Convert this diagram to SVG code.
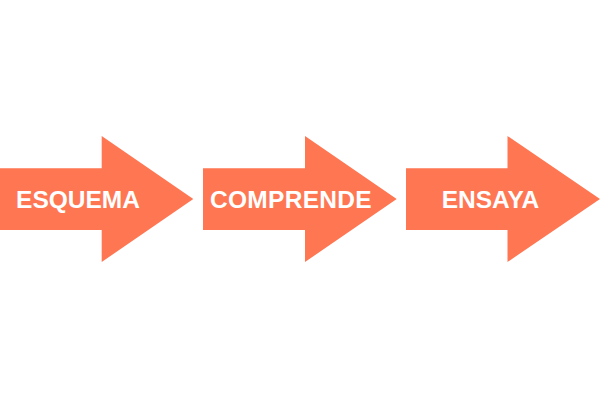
<svg xmlns="http://www.w3.org/2000/svg" width="600" height="400" viewBox="0 0 600 400">
<style>
.arrow{fill:#FF7653;}
.lbl{font-family:"Liberation Sans",Arial,sans-serif;font-weight:bold;font-size:24.5px;fill:#ffffff;text-anchor:middle;}
</style>
<rect width="600" height="400" fill="#ffffff"/>
<g id="connectors"></g>
<g id="esquema">
<polygon class="arrow" points="0,168.3 101.7,168.3 101.7,136 193.3,199 101.7,262 101.7,230 0,230"/>
<text class="lbl" x="78" y="207.5">ESQUEMA</text>
</g>
<g id="comprende">
<polygon class="arrow" points="203,168.3 305,168.3 305,136 396.7,199 305,262 305,230 203,230"/>
<text class="lbl" x="291" y="207.5" letter-spacing="0.3">COMPRENDE</text>
</g>
<g id="ensaya">
<polygon class="arrow" points="406,168.3 507.5,168.3 507.5,136 600,199 507.5,262 507.5,230 406,230"/>
<text class="lbl" x="490.5" y="207.5">ENSAYA</text>
</g>
</svg>
